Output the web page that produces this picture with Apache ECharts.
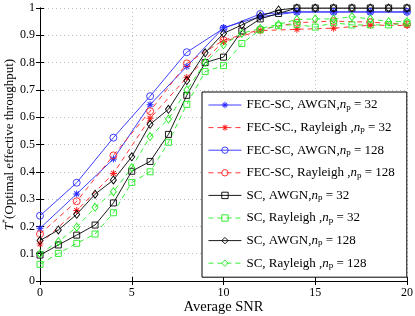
<!DOCTYPE html>
<html>
<head>
<meta charset="utf-8">
<script src="https://cdn.jsdelivr.net/npm/echarts@6/dist/echarts.min.js"></script>
<style>html,body{margin:0;padding:0;background:#fff}#c{width:415px;height:316px}</style>
</head>
<body>
<div id="c"></div>
<script>
const snrEven = [0,2,4,6,8,10,12,14,16,18,20];
const snrAll = [0,1,2,3,4,5,6,7,8,9,10,11,12,13,14,15,16,17,18,19,20];
const xTicks = [0,5,10,15,20];
const yTicks = [0,0.1,0.2,0.3,0.4,0.5,0.6,0.7,0.8,0.9,1];

const fecAwgn32 = [0.193,0.319,0.447,0.646,0.786,0.928,0.968,0.985,0.985,0.985,0.985];
const fecRay32  = [0.136,0.258,0.394,0.596,0.745,0.877,0.917,0.922,0.926,0.937,0.936];
const fecAwgn128 = [0.239,0.36,0.525,0.677,0.838,0.925,0.978,0.986,0.986,0.986,0.986];
const fecRay128 = [0.172,0.292,0.46,0.622,0.797,0.882,0.921,0.946,0.952,0.948,0.94];
const scAwgn32 = [0.095,0.132,0.168,0.205,0.286,0.402,0.438,0.537,0.68,0.80,0.82,0.916,0.96,0.98,1,1,1,1,1,1,1];
const scRay32  = [0.061,0.101,0.138,0.172,0.25,0.361,0.40,0.508,0.647,0.767,0.789,0.87,0.92,0.935,0.94,0.93,0.946,0.938,0.938,0.938,0.945];
const scAwgn128 = [0.148,0.187,0.244,0.318,0.37,0.455,0.574,0.629,0.734,0.836,0.907,0.938,0.97,0.993,1,1,1,1,1,1,1];
const scRay128 = [0.10,0.144,0.197,0.27,0.327,0.415,0.529,0.593,0.70,0.80,0.865,0.907,0.925,0.94,0.958,0.96,0.96,0.968,0.96,0.95,0.95];

const names = ['a1','a2','a3','a4','a5','a6','a7','a8'];
const legendTexts = {
  a1: 'FEC-SC, AWGN,{i|n}{sub|p}{t| = 32}',
  a2: 'FEC-SC., Rayleigh ,{i|n}{sub|p}{t| = 32}',
  a3: 'FEC-SC, AWGN,{i|n}{sub|p}{t| = 128}',
  a4: 'FEC-SC, Rayleigh ,{i|n}{sub|p}{t| = 128}',
  a5: 'SC, AWGN,{i|n}{sub|p}{t| = 32}',
  a6: 'SC, Rayleigh ,{i|n}{sub|p}{t| = 32}',
  a7: 'SC, AWGN,{i|n}{sub|p}{t| = 128}',
  a8: 'SC, Rayleigh ,{i|n}{sub|p}{t| = 128}'
};

const FONT = 'Liberation Serif';
const BLUE = '#2b2bff', RED = '#ff2020', GREEN = '#22ee22', BLACK = '#000';
const STAR = 'path://M0 4.3H10V5.7H0ZM4.3 0H5.7V10H4.3ZM1 2L2 1L9 8L8 9ZM8 1L9 2L2 9L1 8Z';
const CLEAR = 'rgba(255,255,255,0)';

function pairs(xs, ys){ return xs.map((x,i)=>[x, ys[i]]); }
function mk(name, xs, ys, color, dashed, symbol, size){
  const isStar = symbol === STAR;
  return {
    name, type:'line', data: pairs(xs, ys), symbol, symbolSize: size,
    showSymbol: true,
    lineStyle:{color, width:0.9, type: dashed ? [5,4] : 'solid'},
    itemStyle: isStar ? {color, borderWidth:0} : {color: CLEAR, borderColor: color, borderWidth: 0.9},
    emphasis:{disabled:true}, animation:false
  };
}

const series = [
  mk('a1', snrEven, fecAwgn32, BLUE, false, STAR, 7),
  mk('a2', snrEven, fecRay32, RED, true, STAR, 7),
  mk('a3', snrEven, fecAwgn128, BLUE, false, 'circle', 7),
  mk('a4', snrEven, fecRay128, RED, true, 'circle', 7),
  mk('a5', snrAll, scAwgn32, BLACK, false, 'rect', 6),
  mk('a6', snrAll, scRay32, GREEN, true, 'rect', 6),
  mk('a7', snrAll, scAwgn128, BLACK, false, 'diamond', [6,8]),
  mk('a8', snrAll, scRay128, GREEN, true, 'diamond', [6,8])
];

const chart = echarts.init(document.getElementById('c'), null, {renderer:'canvas'});
const axisCommon = {
  axisLine:{show:true, lineStyle:{color:'#000', width:1}},
  axisTick:{show:true, inside:true, length:4, lineStyle:{color:'#000'}},
};
chart.setOption({
  backgroundColor:'#fff',
  animation:false,
  grid:{left:40, right:8, top:8, bottom:35, outerBoundsMode:'none', containLabel:false},
  xAxis:[
    Object.assign({type:'value', min:0, max:20, interval:5, position:'bottom',
      name:'Average SNR', nameLocation:'middle', nameGap:19, nameMoveOverlap:false,
      nameTextStyle:{fontFamily:FONT, fontSize:14.5, color:'#000'},
      axisLabel:{fontFamily:FONT, fontSize:12, color:'#000', margin:6,
        customValues: xTicks},
      splitLine:{show:true, lineStyle:{color:'#aaa', type:[1,3], width:0.8}}
    }, axisCommon),
    Object.assign({type:'value', min:0, max:20, interval:5, position:'top',
      axisLabel:{show:false}, splitLine:{show:false}}, axisCommon)
  ],
  yAxis:[
    Object.assign({type:'value', min:0, max:1, interval:0.1, position:'left',
      name:'{i|T}{sup|*}{t|(Optimal effective throughput)}', nameLocation:'middle', nameGap:23,
      nameMoveOverlap:false,
      nameTextStyle:{fontFamily:FONT, fontSize:13, color:'#000',
        rich:{i:{fontFamily:FONT,fontStyle:'italic',fontSize:13,color:'#000',lineHeight:15},
              sup:{fontFamily:FONT,fontSize:8,color:'#000',verticalAlign:'top',lineHeight:15},
              t:{fontFamily:FONT,fontSize:13,color:'#000',lineHeight:15}}},
      axisLabel:{fontFamily:FONT, fontSize:12, color:'#000', margin:5},
      splitLine:{show:true, lineStyle:{color:'#aaa', type:[1,3], width:0.8}}
    }, axisCommon),
    Object.assign({type:'value', min:0, max:1, interval:0.1, position:'right',
      axisLabel:{show:false}, splitLine:{show:false}}, axisCommon)
  ],
  legend:{
    data: names,
    orient:'vertical', left:202, top:92,
    backgroundColor:'#fff', borderColor:'#000', borderWidth:1,
    padding:[6,12,7,6], itemGap:8.6, itemWidth:33, itemHeight:8,
    selectedMode:false,
    lineStyle:{width:0.9},
    itemStyle:{borderWidth:0.9},
    formatter: n => legendTexts[n],
    textStyle:{fontFamily:FONT, fontSize:13, color:'#000', lineHeight:14,
      rich:{
        i:{fontFamily:FONT, fontStyle:'italic', fontSize:13, color:'#000', lineHeight:14},
        sub:{fontFamily:FONT, fontSize:9, color:'#000', lineHeight:14, verticalAlign:'bottom'},
        t:{fontFamily:FONT, fontSize:13, color:'#000', lineHeight:14}
      }}
  },
  series
});
</script>
</body>
</html>
